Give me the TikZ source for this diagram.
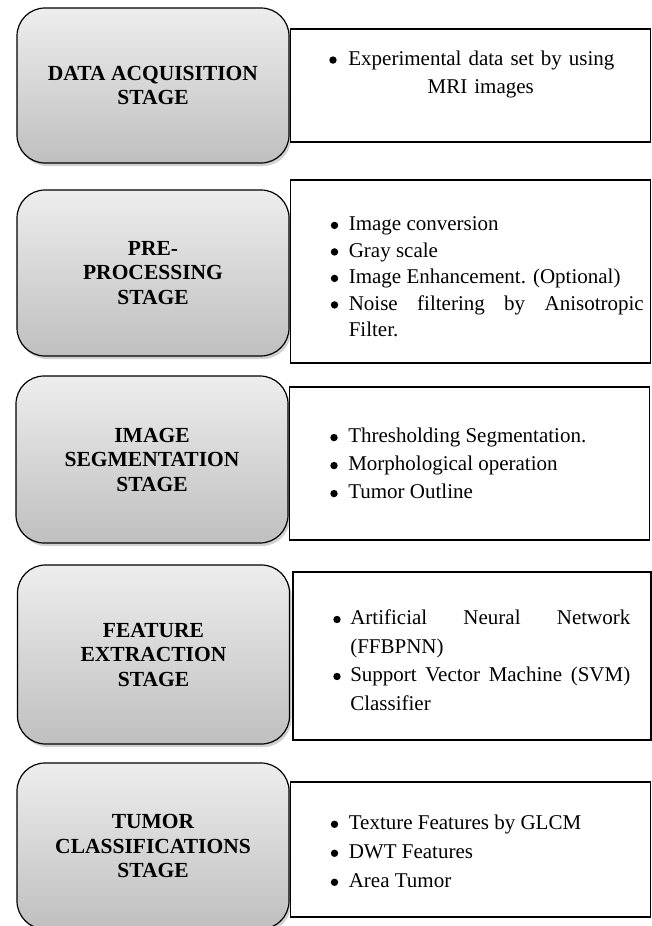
\documentclass[tikz,border=0pt]{standalone}
\usepackage{fontspec}
\setmainfont{Liberation Serif}
\usetikzlibrary{positioning,shadows}
\tolerance=10000
\hyphenpenalty=10000
\tikzset{stagebox/.style = {draw,line width=1.2pt,rounded corners=28pt,
		top color=black!7,bottom color=black!25,
		drop shadow={shadow xshift=2pt,shadow yshift=-3pt,fill=black!40,opacity=.45},
		minimum width=272pt,align=center,
		font=\fontsize{21.5}{24.5}\selectfont\bfseries},
	detailbox/.style = {draw,line width=1.6pt,fill=white,minimum width=360pt},
	bullettext/.style = {inner sep=0pt,align=justify,font=\fontsize{21}{#1}\selectfont},
	bullettext/.default = 28.5}
\newcommand{\bdot}{\tikz[baseline=-5.4pt]\fill (0,0) circle (3.7pt);}
\NewDocumentCommand{\bitem}{O{18pt}}{%
	\noindent\hangindent=#1\hangafter=1\makebox[#1][l]{\bdot}\ignorespaces}

\begin{document}
\begin{tikzpicture}[x=1pt,y=1pt]
\useasboundingbox (0,0) rectangle (651,-926);
\node[stagebox,minimum height=155pt] (s1) at (153,-85.5) {DATA ACQUISITION\\STAGE};
\node[stagebox,minimum height=166pt] (s2) at (153,-273) {PRE-\\PROCESSING\\STAGE};
\node[stagebox,minimum height=167pt] (s3) at (152,-459.5) {IMAGE\\SEGMENTATION\\STAGE};
\node[stagebox,minimum height=179pt] (s4) at (153.5,-654.5) {FEATURE\\EXTRACTION\\STAGE};
\node[stagebox,minimum height=166pt] (s5) at (153,-846) {TUMOR\\CLASSIFICATIONS\\STAGE};

\node[detailbox,minimum height=113pt,right=0pt of s1] (d1) {};
\node[detailbox,minimum height=183pt,right=0pt of s2,yshift=1.5pt] (d2) {};
\node[detailbox,minimum height=153pt,right=0pt of s3,yshift=-4pt] (d3) {};
\node[detailbox,minimum height=168pt,minimum width=358pt,right=2pt of s4,yshift=-1.5pt] (d4) {};
\node[detailbox,minimum height=135pt,right=0pt of s5,yshift=-3.5pt] (d5) {};

\node[bullettext=28,text width=300pt,align=center,below right=22.5pt and 32pt of d1.north west] (t1)
	{\bdot\hspace{11.7pt}Experimental data set by using\\\hspace*{18pt}MRI images};
\node[bullettext=26.5,text width=313pt,below right=37.5pt and 41pt of d2.north west] (t2)
	{\bitem Image conversion\par
	 \bitem Gray scale\par
	 \bitem Image Enhancement. (Optional)\par
	 \bitem Noise filtering by Anisotropic Filter.\par};
\node[bullettext=28,text width=313pt,below right=42pt and 41.5pt of d3.north west] (t3)
	{\bitem Thresholding Segmentation.\par
	 \bitem Morphological operation\par
	 \bitem Tumor Outline\par};
\node[bullettext,text width=297pt,below right=38.7pt and 41pt of d4.north west] (t4)
	{\bitem[17pt] Artificial Neural Network (FFBPNN)\par
	 \bitem[17pt] Support Vector Machine (SVM) Classifier\par};
\node[bullettext=29,text width=313pt,below right=33.7pt and 41pt of d5.north west] (t5)
	{\bitem Texture Features by GLCM\par
	 \bitem DWT Features\par
	 \bitem Area Tumor\par};
\end{tikzpicture}
\end{document}
